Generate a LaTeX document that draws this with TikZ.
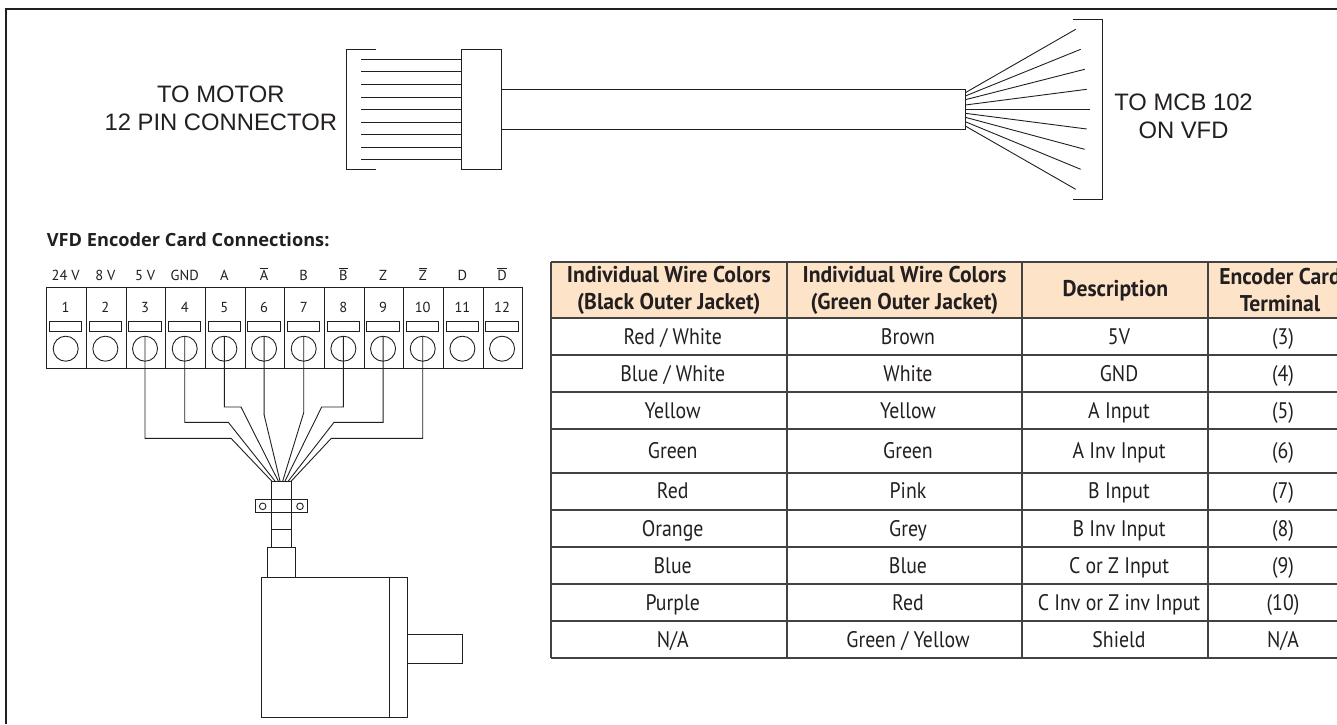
\documentclass[tikz,border=0pt]{standalone}
\usepackage{xcolor}
\usepackage{fontspec}
\usepackage{tikz}
\usetikzlibrary{calc}
\setmainfont{PT Sans}
\newfontfamily\arialfont{Liberation Sans}
\newfontfamily\titlefont{Open Sans}
\newfontfamily\headfont[FakeStretch=0.95]{PT Sans}
\newfontfamily\bodyfont[FakeStretch=0.88]{PT Sans}
\definecolor{inkdark}{HTML}{231F20}
\definecolor{headpeach}{HTML}{FDE4C8}
\newcommand{\barred}[1]{\leavevmode\vbox{\hrule height .8pt \kern 1.6pt \hbox{#1}}}
\tikzset{
    part/.style={draw=inkdark, line width=0.9pt, rectangle, inner sep=0pt, outer sep=0pt},
    wire/.style={draw=inkdark, line width=0.9pt},
    frameline/.style={draw=inkdark, line width=1.6pt},
    gridline/.style={draw=inkdark!85, line width=1.8pt},
    caption/.style={font=\arialfont\fontsize{23.8}{28.3}\selectfont, text=inkdark, align=center, inner sep=0pt},
    headtext/.style={font=\headfont\bfseries\fontsize{22.8}{26.7}\selectfont, text=inkdark, align=center, inner sep=0pt},
    celltext/.style={font=\bodyfont\fontsize{22.5}{26}\selectfont, text=inkdark, inner sep=0pt, text height=20pt, text depth=4pt},
    termlabel/.style={font=\fontsize{14.5}{17}\selectfont, text=inkdark, inner sep=0pt, anchor=base},
}
\begin{document}
\begin{tikzpicture}[x=1pt, y=-1pt]
    \clip (0,0) rectangle (1337,724);
    \fill[white] (0,0) rectangle (1337,724);
    \draw[frameline] (6,724) -- (6,9) -- (1337,9);

    % cable
    \draw[wire] (376,49) -- (346,49) -- (346,169) -- (376,169);
    \node[part, minimum width=40, minimum height=120] (plug) at (481.3,109) {};
    \node[part, minimum width=464, minimum height=40] (cable) at (733.3,109.3) {};
    \foreach \i/\y in {1/59.3, 2/71.7, 3/84.3, 4/97, 5/109.3, 6/122, 7/134.3, 8/147, 9/159.3} {
        \coordinate (tip\i) at (361,\y);
        \draw[wire] (tip\i) -- (tip\i -| plug.west);
    }
    \foreach \i/\dy/\x/\y in {1/-16.6/1075.7/29.3, 2/-13.3/1080.7/49.3, 3/-9.6/1084.7/69.3,
                              4/-4.3/1086.7/89.3, 5/0/1090.3/109.3, 6/4/1086.7/129,
                              7/8/1084.7/149.3, 8/12.4/1080.7/169.3, 9/16.7/1075.7/189.3} {
        \coordinate (lead\i) at (\x,\y);
        \draw[wire] ($(cable.east)+(0,\dy)$) -- (lead\i);
    }
    \draw[wire] (1072.7,19.3) -- (1102.7,19.3) -- (1102.7,199.3) -- (1072.7,199.3);
    \node[caption] (motorcap) at (220.8,108) {TO MOTOR\\12 PIN CONNECTOR};
    \node[caption] (vfdcap) at (1183.5,116) {TO MCB 102\\ON VFD};

    % terminal strip
    \node[font=\titlefont\bfseries\fontsize{18.2}{20}\selectfont, text=inkdark, anchor=base west, inner sep=0pt] (striptitle) at (46.7,246) {VFD Encoder Card Connections:};
    \foreach \n/\lab in {1/24 V, 2/8 V, 3/5 V, 4/GND, 5/A, 6/\barred{A}, 7/B, 8/\barred{B}, 9/Z, 10/\barred{Z}, 11/D, 12/\barred{D}} {
        \pgfmathsetmacro{\cx}{65.7+39.67*(\n-1)}
        \node[part, minimum width=39.67, minimum height=81] (cell\n) at (\cx+0.8,327.8) {};
        \node[part, minimum width=32.3, minimum height=10.4] (slot\n) at (\cx,326.5) {};
        \node[part, circle, minimum size=25] (pin\n) at (\cx,348.7) {};
        \node[termlabel] (lab\n) at (\cx,280.5) {\lab};
        \node[termlabel] (num\n) at (\cx,312.3) {\n};
    }
    \node[part, minimum width=19.6, minimum height=48.3] (lead) at (281.5,505.2) {};
    \node[part, minimum width=19.6, minimum height=18.4] (leadend) at (281.5,538.5) {};
    \foreach \n/\bx/\by/\ex in {3/231/438.3/0, 4/228.3/422.3/3.3, 5/241/407/6.6, 6/264/414.3/8.3,
                                7/303.7/412.7/11, 8/321.7/407/13.3, 9/334/422.3/16.6, 10/331.3/438.3/19.6} {
        \draw[wire] (pin\n.north) |- (\bx,\by) -- ($(lead.north west)+(\ex,0)$);
    }
    \node[part, minimum width=51.6, minimum height=13.4] (clamp) at (281.5,506) {};
    \draw[part] (clamp.center) ++(-9.8,-6.7) -- ++(0,13.4) ++(19.6,0) -- ++(0,-13.4);
    \node[part, circle, minimum size=6.6] (holeleft) at (262.7,506.3) {};
    \node[part, circle, minimum size=6.6] (holeright) at (300,506.3) {};

    % motor
    \node[part, minimum width=28.4, minimum height=30.4] (gland) at (281.5,562.5) {};
    \node[part, minimum width=128.3, minimum height=140] (motor) at (325.15,647.7) {};
    \node[part, minimum width=18.4, minimum height=140] (flange) at (398.5,647.7) {};
    \node[part, minimum width=55, minimum height=29.4] (shaft) at (435.2,649) {};

    % wire table
    \fill[headpeach] (551,262) rectangle (1337,318.3);
    \foreach \y in {262, 318.3, 355, 392.3, 429.3, 472.7, 510, 547, 584, 621, 658.3} {
        \draw[gridline] (551,\y) -- (1337,\y);
    }
    \foreach \x in {551, 786.7, 1022.3, 1208.3} {
        \draw[gridline] (\x,262) -- (\x,658.3);
    }
    \node[headtext] (headA) at (668.8,290.2) {Individual Wire Colors\\(Black Outer Jacket)};
    \node[headtext] (headB) at (904.5,290.2) {Individual Wire Colors\\(Green Outer Jacket)};
    \node[headtext] (headC) at (1115.3,290.2) {Description};
    \node[headtext] (headD) at (1280,290.2) {Encoder Card\\Terminal};
    \foreach \r/\y/\ca/\cb/\cc/\cd in {
        1/336.2/{Red / White}/Brown/5V/(3),
        2/373.1/{Blue / White}/White/GND/(4),
        3/410.3/Yellow/Yellow/A Input/(5),
        4/450.3/Green/Green/A Inv Input/(6),
        5/490.8/Red/Pink/B Input/(7),
        6/528/Orange/Grey/B Inv Input/(8),
        7/565/Blue/Blue/C or Z Input/(9),
        8/602/Purple/Red/C Inv or Z inv Input/(10),
        9/639.2/{N/A}/{Green / Yellow}/Shield/{N/A}} {
        \node[celltext] (a\r) at (672.7,\y) {\ca};
        \node[celltext] (b\r) at (908,\y) {\cb};
        \node[celltext] (c\r) at (1119,\y) {\cc};
        \node[celltext] (d\r) at (1283,\y) {\cd};
    }
\end{tikzpicture}
\end{document}
